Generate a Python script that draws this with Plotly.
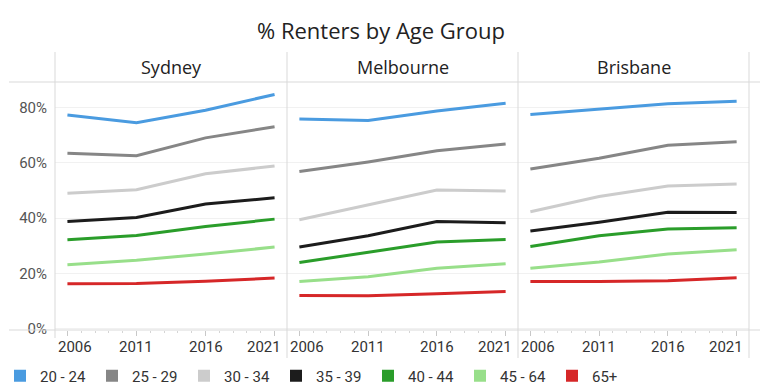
import plotly.graph_objects as go

# ---------------- data ----------------
years = [2006, 2011, 2016, 2021]
year_labels = ["2006", "2011", "2016", "2021"]
cities = ["Sydney", "Melbourne", "Brisbane"]
age_groups = ["20 - 24", "25 - 29", "30 - 34", "35 - 39", "40 - 44", "45 - 64", "65+"]
colors = ["#4a9be0", "#868686", "#cccccc", "#1c1c1c", "#2a9d2a", "#98df8a", "#d62728"]
y_ticks = [0, 20, 40, 60, 80]
y_tick_labels = ["0%", "20%", "40%", "60%", "80%"]

sydney = [
    [77.3, 74.5, 79.0, 84.7],
    [63.4, 62.5, 69.0, 73.0],
    [49.0, 50.2, 56.0, 58.8],
    [38.7, 40.2, 45.1, 47.3],
    [32.1, 33.7, 36.9, 39.6],
    [23.1, 24.7, 27.0, 29.5],
    [16.2, 16.3, 17.1, 18.3],
]
melbourne = [
    [75.8, 75.3, 78.7, 81.5],
    [56.8, 60.3, 64.3, 66.8],
    [39.4, 44.8, 50.1, 49.8],
    [29.5, 33.6, 38.7, 38.3],
    [23.9, 27.5, 31.3, 32.2],
    [17.0, 18.8, 21.8, 23.5],
    [12.0, 11.9, 12.6, 13.4],
]
brisbane = [
    [77.4, 79.3, 81.3, 82.2],
    [57.7, 61.6, 66.3, 67.6],
    [42.3, 47.8, 51.6, 52.3],
    [35.3, 38.5, 42.1, 42.0],
    [29.7, 33.6, 36.0, 36.5],
    [21.8, 24.1, 27.0, 28.5],
    [17.0, 17.0, 17.3, 18.4],
]
city_values = [sydney, melbourne, brisbane]

# ---------------- layout helpers ----------------
W, H = 768, 391
def fx(p):
    return p / W
def fy(p):
    return 1 - p / H

panels = [(55, 287), (287, 518), (518, 749)]
plot_top, plot_bottom = 82, 330
line_col = "#d9d9d9"
tick_font = "Roboto, Inter, Arial, sans-serif"
head_font = "Open Sans, Roboto, Arial, sans-serif"

fig = go.Figure()

for ci, city in enumerate(cities):
    xa = "x" if ci == 0 else f"x{ci+1}"
    ya = "y" if ci == 0 else f"y{ci+1}"
    for gi, grp in enumerate(age_groups):
        fig.add_trace(go.Scatter(
            x=years, y=city_values[ci][gi], mode="lines",
            line=dict(color=colors[gi], width=3),
            name=grp, legendgroup=grp, showlegend=False,
            xaxis=xa, yaxis=ya,
        ))

# legend-only square swatches
for gi, grp in enumerate(age_groups):
    fig.add_trace(go.Scatter(
        x=[None], y=[None], mode="markers",
        marker=dict(symbol="square", size=12, color=colors[gi]),
        name=grp, legendgroup=grp, showlegend=True,
    ))

layout = {}
for ci in range(3):
    xk = "xaxis" if ci == 0 else f"xaxis{ci+1}"
    yk = "yaxis" if ci == 0 else f"yaxis{ci+1}"
    l, r = panels[ci]
    layout[xk] = dict(
        domain=[fx(l), fx(r)], range=[2005.1, 2021.9],
        anchor="y" if ci == 0 else f"y{ci+1}",
        tickvals=years, ticks="outside", ticklen=5, tickcolor="#c8c8c8",
        showticklabels=False, showgrid=False, zeroline=False, showline=False,
        minor=dict(tick0=2006, dtick=1, ticks="outside", ticklen=2,
                   tickcolor="#d5d5d5", showgrid=False),
        fixedrange=True,
    )
    layout[yk] = dict(
        domain=[fy(plot_bottom), fy(plot_top)], range=[-0.5, 89.2],
        anchor="x" if ci == 0 else f"x{ci+1}",
        tickvals=y_ticks, ticktext=y_tick_labels,
        showticklabels=(ci == 0), ticks="", ticklabelstandoff=7,
        tickfont=dict(family=tick_font, size=15, color="#555555"),
        showgrid=True, gridcolor="#f1f1f1", gridwidth=1,
        zeroline=False, showline=False, fixedrange=True,
    )

shapes = []
for yy in (plot_top, plot_bottom):
    shapes.append(dict(type="line", xref="paper", yref="paper",
                       x0=fx(9), x1=fx(760), y0=fy(yy), y1=fy(yy),
                       line=dict(color=line_col, width=1)))
for xx, yb in ((55, 338), (287, 358), (518, 358), (749, 358)):
    shapes.append(dict(type="line", xref="paper", yref="paper",
                       x0=fx(xx), x1=fx(xx), y0=fy(52), y1=fy(yb),
                       line=dict(color=line_col, width=1)))

annotations = [dict(
    text="% Renters by Age Group", xref="paper", yref="paper",
    x=fx(381), y=fy(30), xanchor="center", yanchor="middle", showarrow=False,
    font=dict(family=head_font, size=22, color="#222222"),
)]
for ci, city in enumerate(cities):
    l, r = panels[ci]
    annotations.append(dict(
        text=city, xref="paper", yref="paper",
        x=fx((l + r) / 2), y=fy(67), xanchor="center", yanchor="middle",
        showarrow=False,
        font=dict(family=head_font, size=18, color="#222222"),
    ))
    xa = "x" if ci == 0 else f"x{ci+1}"
    for yi, (yr, lab) in enumerate(zip(years, year_labels)):
        if yi == 0:
            anchor, shift = "left", -11
        elif yi == len(years) - 1:
            anchor, shift = "right", 8
        else:
            anchor, shift = "center", 0
        annotations.append(dict(
            text=lab, xref=xa, yref="paper", x=yr, y=fy(347),
            xanchor=anchor, yanchor="middle", xshift=shift, showarrow=False,
            font=dict(family=tick_font, size=15, color="#333333"),
        ))

fig.update_layout(
    **layout,
    width=W, height=H,
    margin=dict(l=0, r=0, t=0, b=0, autoexpand=False),
    paper_bgcolor="white", plot_bgcolor="white",
    shapes=shapes, annotations=annotations,
    showlegend=True,
    legend=dict(orientation="h", x=0, y=fy(376), xanchor="left",
                yanchor="middle", font=dict(family=tick_font, size=15, color="#333333"),
                itemsizing="trace", entrywidth=47, entrywidthmode="pixels",
                bgcolor="rgba(0,0,0,0)"),
)

fig.write_html("out.html", config={"displayModeBar": False},
               post_script="document.body.style.margin='0';document.body.style.overflow='hidden';")
